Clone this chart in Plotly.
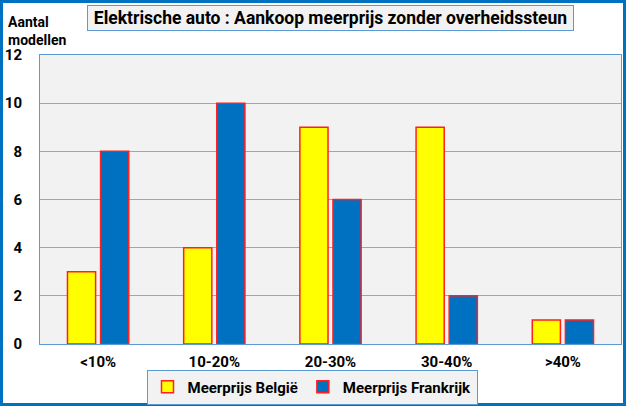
import plotly.graph_objects as go

categories = ["<10%", "10-20%", "20-30%", "30-40%", ">40%"]
belgie = [3, 4, 9, 9, 1]
frankrijk = [8, 10, 6, 2, 1]
y_ticks = [0, 2, 4, 6, 8, 10, 12]

W, H = 626, 406
ML, MR, MT, MB = 40, 5, 55, 62
PW, PH = W - ML - MR, H - MT - MB
FONT = "Roboto, Liberation Sans, Arial"

def px_x(p):
    return (p - ML) / PW

def px_y(p):
    return (H - MB - p) / PH

fig = go.Figure()
fig.add_trace(go.Bar(
    x=categories, y=belgie, name="Meerprijs België",
    marker=dict(color="#FFFF00", line=dict(color="#FF2020", width=1.5)),
))
fig.add_trace(go.Bar(
    x=categories, y=frankrijk, name="Meerprijs Frankrijk",
    marker=dict(color="#0070C0", line=dict(color="#FF2020", width=1.5)),
))

fig.update_layout(
    width=W, height=H,
    margin=dict(l=ML, r=MR, t=MT, b=MB, autoexpand=False),
    paper_bgcolor="white",
    plot_bgcolor="#F2F2F2",
    barmode="group",
    bargap=0.43,
    bargroupgap=0.15,
    font=dict(family=FONT, size=13, color="black"),
    showlegend=True,
    legend=dict(
        orientation="h",
        x=px_x(312), xanchor="center", y=px_y(387), yanchor="middle",
        bgcolor="#F2F2F2", bordercolor="#5B9BD5", borderwidth=1,
        font=dict(family=FONT, size=15, color="black", weight="bold"),
        itemwidth=30, tracegroupgap=0,
    ),
    xaxis=dict(
        showgrid=False, showline=True, linecolor="#5B9BD5", linewidth=1, mirror=True,
        tickfont=dict(family=FONT, size=15, color="black", weight="bold"),
        ticks="", ticklabelstandoff=4, automargin=False,
    ),
    yaxis=dict(
        range=[0, 12], tickvals=y_ticks, showgrid=True, gridcolor="#7FAEDC", gridwidth=1,
        showline=True, linecolor="#5B9BD5", linewidth=1, mirror=True,
        tickfont=dict(family=FONT, size=15, color="black", weight="bold"),
        ticks="", ticklabelstandoff=14, zeroline=False, automargin=False,
    ),
    shapes=[dict(
        type="rect", xref="paper", yref="paper",
        x0=px_x(1.5), x1=px_x(624.5), y0=px_y(404.5), y1=px_y(1.5),
        line=dict(color="#0070C0", width=3), fillcolor="rgba(0,0,0,0)", layer="above",
    )],
    annotations=[
        dict(
            text="Elektrische auto : Aankoop meerprijs zonder overheidssteun",
            xref="paper", yref="paper", x=px_x(330.5), y=px_y(18),
            xanchor="center", yanchor="middle", showarrow=False,
            font=dict(family=FONT, size=17.5, color="black", weight="bold"),
            bgcolor="#F2F2F2", bordercolor="#5B9BD5", borderwidth=1, borderpad=2,
            width=481, height=20,
        ),
        dict(
            text="Aantal<br>modellen", xref="paper", yref="paper",
            x=px_x(6), y=px_y(12), xanchor="left", yanchor="top", showarrow=False,
            align="left",
            font=dict(family=FONT, size=14, color="black", weight="bold"),
        ),
    ],
)

fig.write_html("out.html", config={"displayModeBar": False},
               post_script="document.body.style.margin='0';")
